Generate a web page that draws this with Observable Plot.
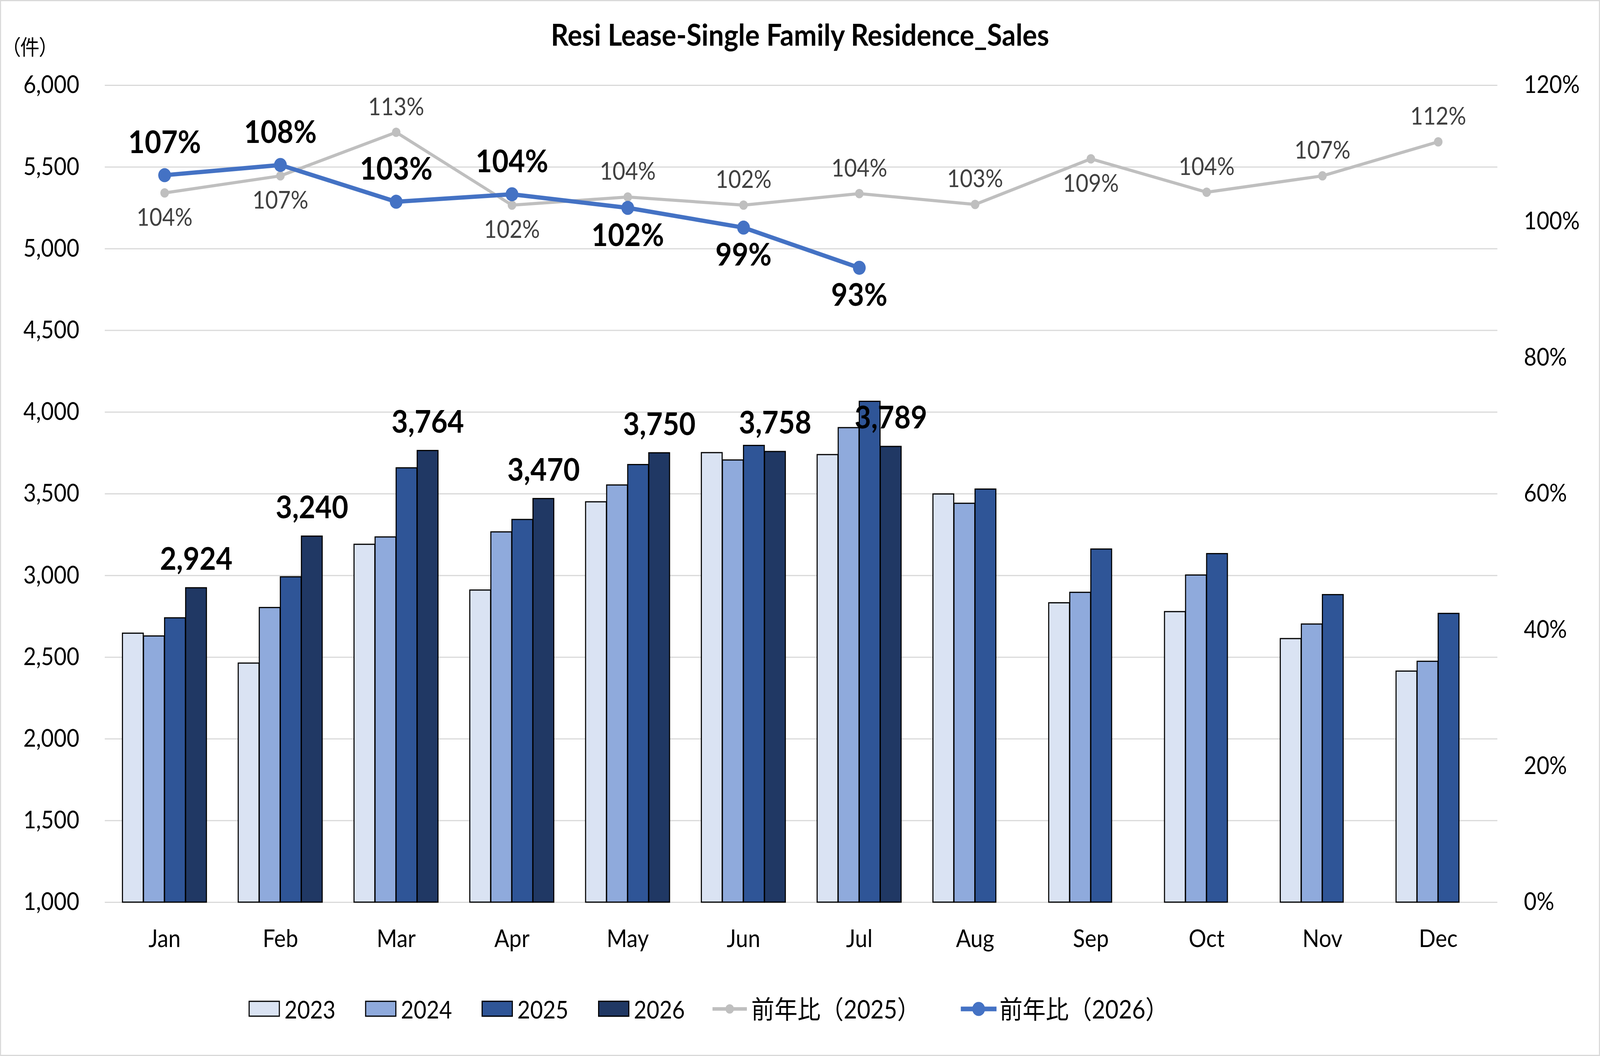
<!DOCTYPE html>
<html>
<head>
<meta charset="utf-8">
<script src="https://cdn.jsdelivr.net/npm/d3@7"></script>
<script src="https://cdn.jsdelivr.net/npm/@observablehq/plot@0.6"></script>
<style>
html, body { margin: 0; padding: 0; background: #fff; overflow: hidden; }
#chart { position: relative; width: 4505px; height: 2704px; overflow: hidden; background: #fff;
  font-family: Lato, "Noto Sans CJK JP", sans-serif; color: #000; transform-origin: 0 0; }
#frame { position: absolute; inset: 0; border: 3px solid #d9d9d9; box-sizing: border-box; pointer-events: none; z-index: 5; }
#title { position: absolute; left: 0; right: 0; top: 87px; transform: translateY(-50%);
  text-align: center; font-weight: 700; font-size: 77px; line-height: 1; white-space: nowrap; }
#unit { position: absolute; left: 30px; top: 118px; transform: translateY(-50%);
  font-size: 54px; line-height: 1; font-family: "Noto Sans CJK JP", sans-serif; font-feature-settings: "palt"; }
#plot { position: absolute; left: 0; top: 150px; }
#legend { position: absolute; left: 700px; top: 2583px; transform: translateY(-50%);
  display: flex; align-items: center; font-size: 62px; line-height: 1; white-space: nowrap; }
#legend .sw { width: 88px; height: 41px; border: 3px solid #000; box-sizing: border-box; margin-right: 13px; }
#legend .txt { display: inline-block; }
#legend .yoy { font-size: 65px; }
#legend svg { display: block; }
</style>
</head>
<body>
<div id="chart">
  <div id="title">Resi Lease-Single Family Residence_Sales</div>
  <div id="unit">（件）</div>
  <div id="plot"></div>
  <div id="legend"></div>
  <div id="frame"></div>
</div>
<script>
// ---- data ----
const months = ["Jan","Feb","Mar","Apr","May","Jun","Jul","Aug","Sep","Oct","Nov","Dec"];
const years = ["2023","2024","2025","2026"];
const sales2023 = [2646, 2463, 3190, 2910, 3450, 3751, 3739, 3498, 2832, 2778, 2613, 2414];
const sales2024 = [2629, 2803, 3235, 3266, 3553, 3706, 3904, 3441, 2896, 3002, 2702, 2474];
const sales2025 = [2740, 2991, 3658, 3342, 3678, 3795, 4065, 3528, 3161, 3133, 2882, 2767];
const sales2026 = [2924, 3240, 3764, 3470, 3750, 3758, 3789, null, null, null, null, null];
const yoy2025 = [104.2, 106.7, 113.1, 102.4, 103.6, 102.4, 104.1, 102.5, 109.2, 104.3, 106.7, 111.7];
const yoy2026 = [106.8, 108.3, 102.9, 104.0, 102.0, 99.1, 93.2, null, null, null, null, null];
const leftTicks = [1000, 1500, 2000, 2500, 3000, 3500, 4000, 4500, 5000, 5500, 6000];
const rightTicks = [0, 20, 40, 60, 80, 100, 120];
const yoyLabel2025 = "前年比（2025）";
const yoyLabel2026 = "前年比（2026）";

// ---- styles ----
const barColors = {"2023": "#DAE3F3", "2024": "#8FAADC", "2025": "#2F5597", "2026": "#203864"};
const grayLine = "#BFBFBF";
const blueLine = "#4472C4";
const grayBelow = new Set(["Jan", "Feb", "Apr", "Sep"]);
const blueBelow = new Set(["May", "Jun", "Jul"]);

// ---- layout (design size 4505 x 2704, fitted to the window) ----
const DW = 4505, DH = 2704;
const W = 4505, H = 2330;
const mL = 295, mR = 289, mT = 68, mB = 170;
const bandW = (W - mL - mR) / months.length;
const barW = bandW * 0.1815;
const yMin = leftTicks[0], yMax = leftTicks[leftTicks.length - 1];
const pctMax = rightTicks[rightTicks.length - 1];
const pctToY = p => yMin + p / pctMax * (yMax - yMin);

const seriesByYear = {"2023": sales2023, "2024": sales2024, "2025": sales2025, "2026": sales2026};
const barData = years.map(yr => seriesByYear[yr]
  .map((v, i) => ({month: months[i], year: yr, value: v}))
  .filter(d => d.value != null));
const line2025 = yoy2025.map((v, i) => ({month: months[i], pct: v})).filter(d => d.pct != null);
const line2026 = yoy2026.map((v, i) => ({month: months[i], pct: v})).filter(d => d.pct != null);

const barMarks = years.map((yr, k) => {
  const insetLeft = bandW / 2 + (k - 2) * barW;
  const insetRight = bandW - insetLeft - barW;
  return Plot.rectY(barData[k], {
    x: "month", y1: () => yMin, y2: "value",
    fill: barColors[yr], stroke: "#000", strokeWidth: 3,
    insetLeft, insetRight
  });
});

const plot = Plot.plot({
  width: W, height: H,
  marginLeft: mL, marginRight: mR, marginTop: mT, marginBottom: mB,
  style: {background: "none", fontFamily: "Lato, 'Noto Sans CJK JP', sans-serif", fontSize: "62px", color: "#000", overflow: "visible"},
  x: {type: "band", domain: months, padding: 0, label: null},
  y: {domain: [yMin, yMax], label: null},
  marks: [
    Plot.ruleY(leftTicks, {stroke: "#D9D9D9", strokeWidth: 3}),
    ...barMarks,
    Plot.axisY(leftTicks, {anchor: "left", tickSize: 0, tickPadding: 72, fontSize: 62,
      tickFormat: d3.format(","), label: null}),
    Plot.axisY(rightTicks.map(pctToY), {anchor: "right", tickSize: 0, tickPadding: 74, fontSize: 62,
      textAnchor: "start", label: null,
      tickFormat: v => Math.round((v - yMin) / (yMax - yMin) * pctMax) + "%"}),
    Plot.axisX({tickSize: 0, tickPadding: 70, fontSize: 62, label: null}),
    // 2025 YoY line
    Plot.line(line2025, {x: "month", y: d => pctToY(d.pct), stroke: grayLine, strokeWidth: 8}),
    Plot.dot(line2025, {x: "month", y: d => pctToY(d.pct), r: 12, fill: grayLine}),
    // 2026 YoY line
    Plot.line(line2026, {x: "month", y: d => pctToY(d.pct), stroke: blueLine, strokeWidth: 11}),
    Plot.dot(line2026, {x: "month", y: d => pctToY(d.pct), r: 18, fill: blueLine}),
    // 2025 YoY labels
    Plot.text(line2025.filter(d => !grayBelow.has(d.month)), {x: "month", y: d => pctToY(d.pct),
      text: d => Math.round(d.pct) + "%", dy: -64, fill: "#404040", fontSize: 62}),
    Plot.text(line2025.filter(d => grayBelow.has(d.month)), {x: "month", y: d => pctToY(d.pct),
      text: d => Math.round(d.pct) + "%", dy: 64, fill: "#404040", fontSize: 62}),
    // 2026 YoY labels
    Plot.text(line2026.filter(d => !blueBelow.has(d.month)), {x: "month", y: d => pctToY(d.pct),
      text: d => Math.round(d.pct) + "%", dy: -82, fill: "#000", fontSize: 80, fontWeight: 700}),
    Plot.text(line2026.filter(d => blueBelow.has(d.month)), {x: "month", y: d => pctToY(d.pct),
      text: d => Math.round(d.pct) + "%", dy: 72, fill: "#000", fontSize: 80, fontWeight: 700}),
    // 2026 bar value labels
    Plot.text(barData[3], {x: "month", y: "value", text: d => d3.format(",")(d.value),
      dx: 1.5 * barW, dy: -72, fill: "#000", fontSize: 80, fontWeight: 700})
  ]
});
document.getElementById("plot").appendChild(plot);

// ---- legend ----
const legend = document.getElementById("legend");
years.forEach((yr, k) => {
  const sw = document.createElement("div");
  sw.className = "sw";
  sw.style.background = barColors[yr];
  legend.appendChild(sw);
  const t = document.createElement("span");
  t.className = "txt";
  t.textContent = yr;
  t.style.marginRight = (k < years.length - 1 ? 83 : 78) + "px";
  legend.appendChild(t);
});
function lineKey(color, w, sw, r, gap) {
  const ns = "http://www.w3.org/2000/svg";
  const s = document.createElementNS(ns, "svg");
  s.setAttribute("width", w); s.setAttribute("height", 40);
  s.style.marginRight = gap + "px";
  const l = document.createElementNS(ns, "line");
  l.setAttribute("x1", 0); l.setAttribute("x2", w); l.setAttribute("y1", 20); l.setAttribute("y2", 20);
  l.setAttribute("stroke", color); l.setAttribute("stroke-width", sw);
  const c = document.createElementNS(ns, "circle");
  c.setAttribute("cx", w / 2); c.setAttribute("cy", 20); c.setAttribute("r", r); c.setAttribute("fill", color);
  s.appendChild(l); s.appendChild(c);
  return s;
}
legend.appendChild(lineKey(grayLine, 97, 9, 12, 12));
const t1 = document.createElement("span"); t1.className = "txt yoy"; t1.textContent = yoyLabel2025; t1.style.marginRight = "114px";
legend.appendChild(t1);
legend.appendChild(lineKey(blueLine, 101, 12, 18, 8));
const t2 = document.createElement("span"); t2.className = "txt yoy"; t2.textContent = yoyLabel2026;
legend.appendChild(t2);

// ---- fit the design to the actual window ----
function fit() {
  const sx = (window.innerWidth || DW) / DW;
  const sy = (window.innerHeight || DH) / DH;
  document.getElementById("chart").style.transform = `scale(${sx}, ${sy})`;
}
fit();
window.addEventListener("resize", fit);
</script>
</body>
</html>
